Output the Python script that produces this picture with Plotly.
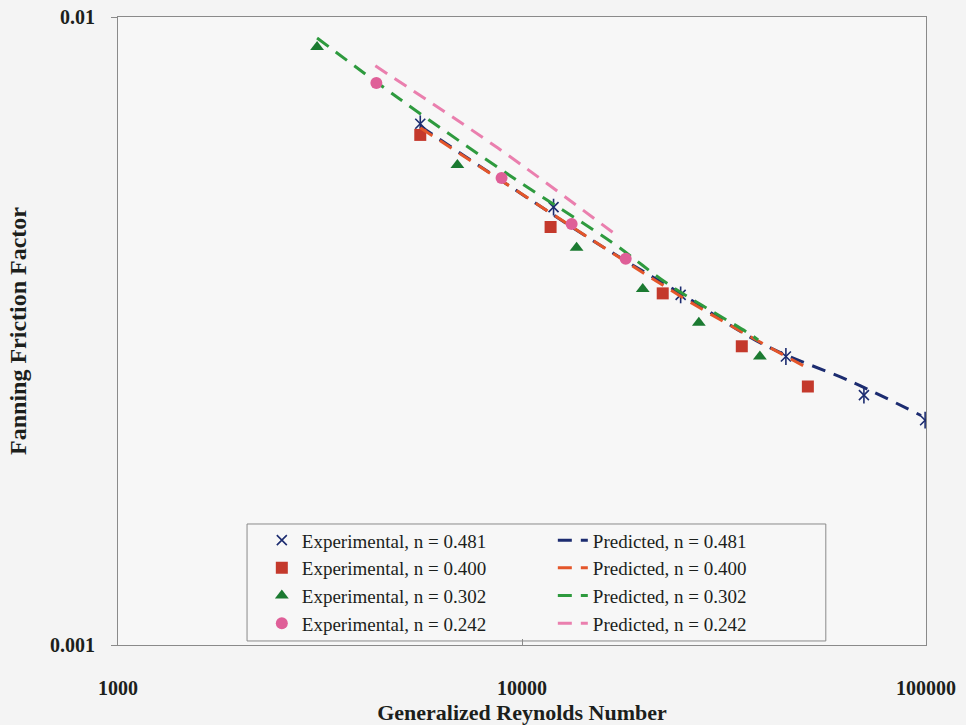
import plotly.graph_objects as go

# Experimental friction factors (generalized Reynolds number, Fanning f)
re_481 = [5600, 11970, 24700, 45000, 70200, 99500]
f_481 = [0.00676, 0.00498, 0.00361, 0.00288, 0.00250, 0.00228]

re_400 = [5600, 11770, 22300, 35000, 51000]
f_400 = [0.00649, 0.00463, 0.00363, 0.00299, 0.00258]

re_302 = [3110, 6920, 13650, 19900, 27400, 38800]
f_302 = [0.00896, 0.00581, 0.00429, 0.00369, 0.00326, 0.00288]

re_242 = [4360, 8900, 13270, 18060]
f_242 = [0.00785, 0.00554, 0.00468, 0.00412]

# Predicted curves
pre_481 = [5600, 9000, 15900, 25000, 40000, 65900, 97200]
pf_481 = [0.00670, 0.00546, 0.00430, 0.00361, 0.00300, 0.00262, 0.00232]

pre_400 = [5600, 9000, 15900, 27400, 50400]
pf_400 = [0.00666, 0.00546, 0.00430, 0.00345, 0.00277]

pre_302 = [3110, 4940, 9530, 16750, 23070, 36850, 38400]
pf_302 = [0.00926, 0.00743, 0.00554, 0.00437, 0.00375, 0.00312, 0.00306]

pre_242 = [4335, 8700, 17240]
pf_242 = [0.00836, 0.00619, 0.00448]

labels_n = ["0.481", "0.400", "0.302", "0.242"]

x_ticks = [1000, 10000, 100000]
x_ticktext = ["1000", "10000", "100000"]
y_ticks = [0.001, 0.01]
y_ticktext = ["0.001", "0.01"]

SERIF = "Liberation Serif"
TEXT = "#1c1f1c"
NAVY = "#1c2c70"

exp_sets = [
    (re_481, f_481, dict(symbol="x-thin-open", size=10, color=NAVY,
                         line=dict(width=1.6, color=NAVY))),
    (re_400, f_400, dict(symbol="square", size=12, color="#c4392c")),
    (re_302, f_302, dict(symbol="triangle-up", size=12, color="#1b7a31")),
    (re_242, f_242, dict(symbol="circle", size=12, color="#df5f98")),
]
pred_sets = [
    (pre_481, pf_481, NAVY),
    (pre_400, pf_400, "#e4562a"),
    (pre_302, pf_302, "#2e9a3e"),
    (pre_242, pf_242, "#ea7fae"),
]

fig = go.Figure()
# Alternate experimental/predicted so the horizontal legend forms two columns
for i, (n, (xe, ye, mk), (xp, yp, lc)) in enumerate(zip(labels_n, exp_sets, pred_sets)):
    fig.add_trace(go.Scatter(
        x=xe, y=ye, mode="markers", marker=mk,
        name=f"Experimental, n = {n}", legendgroup=f"exp{n}",
    ))
    if i == 0:
        # vertical stroke completing the six-point star marker
        fig.add_trace(go.Scatter(
            x=xe, y=ye, mode="markers", showlegend=False, legendgroup=f"exp{n}",
            marker=dict(symbol="line-ns-open", size=12, color=NAVY,
                        line=dict(width=1.6, color=NAVY)),
            hoverinfo="skip",
        ))
    fig.add_trace(go.Scatter(
        x=xp, y=yp, mode="lines", line=dict(color=lc, width=3, dash="14px,9px"),
        line_shape="spline",
        name=f"Predicted, n = {n}",
    ))

axis_common = dict(
    type="log",
    automargin=False,
    showgrid=False,
    zeroline=False,
    showline=True,
    linecolor="#8a8a8a",
    linewidth=1,
    mirror=True,
    tickcolor="#8a8a8a",
    ticklen=6,
    tickfont=dict(family=SERIF, size=20, color=TEXT, weight="bold"),
)

fig.update_xaxes(
    **axis_common,
    range=[3, 5],
    tickvals=x_ticks,
    ticktext=x_ticktext,
    ticks="inside",
    ticklabelstandoff=25,
    title=dict(text="Generalized Reynolds Number",
               font=dict(family=SERIF, size=22, color=TEXT, weight="bold"),
               standoff=9),
)
fig.update_yaxes(
    **axis_common,
    range=[-3, -2],
    tickvals=y_ticks,
    ticktext=y_ticktext,
    ticks="outside",
    ticklabelstandoff=12,
    title=dict(text="Fanning Friction Factor",
               font=dict(family=SERIF, size=24, color=TEXT, weight="bold"),
               standoff=16),
)

# Legend frame
fig.add_shape(
    type="rect", xref="paper", yref="paper",
    x0=0.1597, x1=0.876, y0=0.0064, y1=0.1927,
    line=dict(color="#8a8a8a", width=1), fillcolor="#f7f7f7", layer="below",
)

fig.update_layout(
    width=966,
    height=725,
    margin=dict(l=118, r=40, t=17, b=80),
    paper_bgcolor="#f4f4f4",
    plot_bgcolor="#f7f7f7",
    legend=dict(
        orientation="h",
        x=0.178,
        y=0.197,
        xanchor="left",
        yanchor="top",
        entrywidth=246,
        entrywidthmode="pixels",
        bgcolor="rgba(0,0,0,0)",
        borderwidth=0,
        font=dict(family=SERIF, size=19, color=TEXT),
        itemwidth=30,
        tracegroupgap=0,
    ),
    showlegend=True,
)

fig.write_html("out.html")
